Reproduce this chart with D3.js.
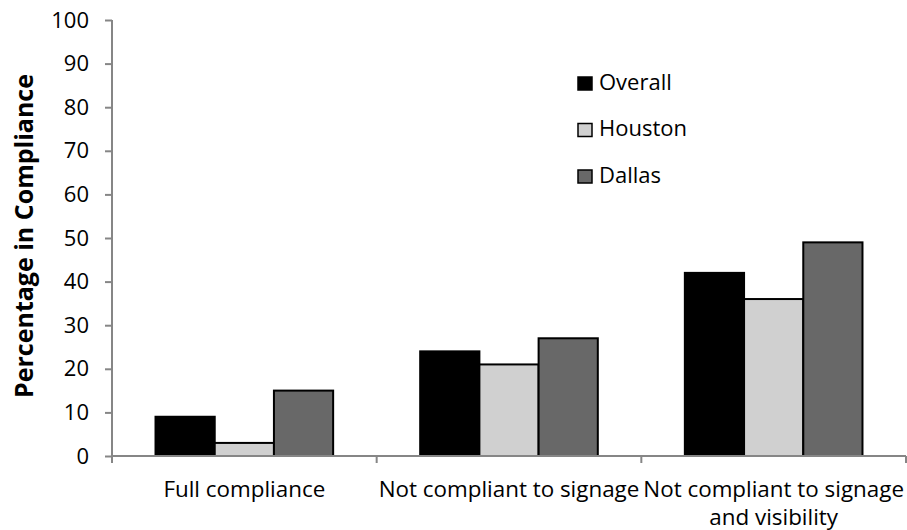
<!DOCTYPE html>
<html><head><meta charset="utf-8">
<script src="https://cdn.jsdelivr.net/npm/d3@7"></script>
<style>body{margin:0;background:#fff}</style>
</head><body><svg id="c" width="907" height="530"></svg>
<script>
const categories = [["Full compliance"], ["Not compliant to signage"], ["Not compliant to signage", "and visibility"]];
const seriesNames = ["Overall", "Houston", "Dallas"];
const overall = [9, 24, 42];
const houston = [3, 21, 36];
const dallas = [15, 27, 49];
const yTicks = [0,10,20,30,40,50,60,70,80,90,100];
const colors = ["#000000", "#d0d0d0", "#686868"];
const font = "'Open Sans', sans-serif";

const svg = d3.select("#c");
const mLeft = 112, mRight = 906, mTop = 20, mBottom = 456;
const x = d3.scaleBand().domain(d3.range(categories.length)).range([mLeft, mRight]).paddingInner(0).paddingOuter(0);
const y = d3.scaleLinear().domain([0, 100]).range([mBottom, mTop]);
const inner = d3.scaleBand().domain(d3.range(3)).range([0, x.bandwidth()]).paddingOuter(0.735).paddingInner(0);
const series = [overall, houston, dallas];

series.forEach((vals, si) => {
  svg.append("g").selectAll("rect").data(vals).join("rect")
    .attr("x", (d, i) => x(i) + inner(si))
    .attr("y", d => y(d))
    .attr("width", inner.bandwidth())
    .attr("height", d => y(0) - y(d))
    .attr("fill", colors[si])
    .attr("stroke", "#000").attr("stroke-width", 2);
});

const ya = svg.append("g").attr("transform", `translate(${mLeft},0)`)
  .call(d3.axisLeft(y).tickValues(yTicks).tickSize(7).tickPadding(16));
ya.selectAll("line,path").attr("stroke", "#868686").attr("stroke-width", 2);
ya.select(".domain").attr("d", `M0,${mTop}V${mBottom}`);
ya.selectAll("text").attr("font-family", font).attr("font-size", 22).attr("fill", "#000");

const xa = svg.append("g").attr("transform", `translate(0,${mBottom})`);
xa.append("line").attr("x1", mLeft).attr("x2", mRight).attr("stroke", "#868686").attr("stroke-width", 2);
const bounds = d3.range(categories.length + 1).map(i => i < categories.length ? x(i) : x(i-1) + x.bandwidth());
xa.selectAll("line.t").data(bounds).join("line").attr("class","t")
  .attr("x1", d => d).attr("x2", d => d).attr("y1", 0).attr("y2", 7)
  .attr("stroke", "#868686").attr("stroke-width", 2);
categories.forEach((lines, i) => {
  const t = xa.append("text").attr("text-anchor", "middle")
    .attr("font-family", font).attr("font-size", 22.4).attr("fill", "#000");
  lines.forEach((l, j) => t.append("tspan").attr("x", x(i) + x.bandwidth()/2).attr("y", 41 + j*28).text(l));
});

svg.append("text").attr("transform", `translate(33,236) rotate(-90)`)
  .attr("text-anchor", "middle").attr("font-family", font).attr("font-weight", "bold")
  .attr("font-size", 25).attr("fill", "#000").text("Percentage in Compliance");

const lg = svg.append("g").attr("transform", "translate(578,77)");
seriesNames.forEach((n, i) => {
  lg.append("rect").attr("x", 0).attr("y", i*46.5).attr("width", 14).attr("height", 13)
    .attr("fill", colors[i]).attr("stroke", "#000").attr("stroke-width", 1.5);
  lg.append("text").attr("x", 21).attr("y", i*46.5 + 12.5).attr("font-family", font)
    .attr("font-size", 22).attr("fill", "#000").text(n);
});
</script></body></html>
